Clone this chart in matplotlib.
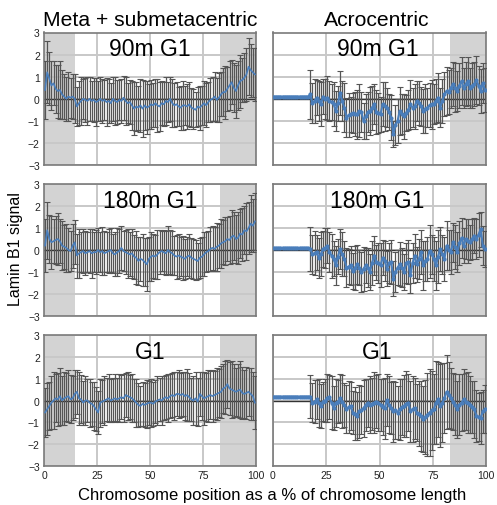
import numpy as np
import matplotlib
matplotlib.use("Agg")
import matplotlib.pyplot as plt

plt.rcParams['font.family'] = ['Liberation Sans', 'DejaVu Sans']

# position along chromosome (% of length), one point per percent
pos = np.arange(100) + 0.5

# --- Meta + submetacentric ---
tl_mean = [0.4, 1.2, 0.9, 0.6, 0.7, 0.45, 0.35, 0.4, 0.2, 0.1,
           0.0, 0.1, 0.05, 0.1, 0.0, -0.35, -0.2, -0.1, 0.0, -0.05,
           -0.1, 0.0, -0.1, -0.05, -0.15, -0.1, 0.0, -0.1, -0.05, -0.15,
           -0.1, -0.2, 0.0, -0.1, -0.15, -0.05, -0.1, 0.05, -0.1, -0.2,
           -0.15, -0.3, -0.45, -0.35, -0.4, -0.3, -0.45, -0.3, -0.4, -0.35,
           -0.25, -0.3, -0.2, -0.3, -0.35, -0.2, -0.25, -0.1, -0.15, 0.0,
           -0.2, -0.3, -0.25, -0.35, -0.4, -0.3, -0.3, -0.35, -0.25, -0.4,
           -0.45, -0.5, -0.35, -0.4, -0.3, -0.2, -0.3, -0.15, -0.05, 0.0,
           0.1, -0.05, 0.05, 0.2, 0.3, 0.3, 0.45, 0.6, 0.75, 0.5,
           0.35, 0.6, 0.8, 0.85, 0.95, 1.1, 1.45, 1.3, 1.2, 1.1]
tl_err = [1.3, 1.4, 1.2, 1.1, 1.0, 1.1, 1.2, 1.3, 1.1, 1.0,
          1.0, 1.1, 0.9, 1.0, 1.1, 0.9, 1.0, 1.1, 0.9, 1.0,
          1.1, 1.0, 0.9, 1.0, 1.1, 0.9, 1.0, 1.0, 0.9, 1.1,
          1.0, 0.9, 1.0, 1.1, 1.0, 0.9, 1.0, 1.0, 1.1, 0.9,
          1.0, 1.1, 1.2, 1.1, 1.0, 1.2, 1.3, 1.1, 1.2, 1.0,
          1.1, 1.0, 1.1, 1.2, 1.1, 1.0, 1.0, 1.1, 0.9, 1.0,
          1.1, 1.0, 1.0, 0.9, 1.0, 1.1, 0.9, 1.0, 1.0, 0.9,
          0.9, 0.8, 0.9, 1.0, 0.9, 1.0, 1.0, 0.9, 1.0, 1.0,
          1.1, 1.0, 1.1, 1.0, 1.1, 1.2, 1.0, 1.1, 1.0, 1.1,
          1.2, 1.1, 1.2, 1.0, 1.1, 1.2, 1.3, 1.2, 1.1, 1.2]

ml_mean = [0.2, 0.9, 0.5, 0.35, 0.4, 0.45, 0.5, 0.4, 0.2, 0.15,
           0.1, 0.0, -0.05, 0.2, 0.35, -0.25, -0.15, -0.1, -0.05, -0.15,
           -0.1, -0.05, -0.15, -0.1, -0.1, 0.0, -0.1, -0.05, -0.15, -0.1,
           -0.05, 0.0, -0.15, -0.2, -0.1, -0.05, 0.1, -0.05, -0.1, -0.15,
           -0.2, -0.15, -0.3, -0.35, -0.5, -0.4, -0.45, -0.55, -0.65, -0.4,
           -0.3, -0.25, -0.3, -0.2, -0.1, -0.05, -0.1, -0.15, 0.0, -0.1,
           -0.15, -0.25, -0.3, -0.25, -0.3, -0.35, -0.4, -0.3, -0.25, -0.35,
           -0.4, -0.45, -0.5, -0.35, -0.3, -0.2, -0.1, -0.05, 0.05, 0.1,
           0.05, 0.15, 0.2, 0.3, 0.35, 0.4, 0.5, 0.45, 0.6, 0.65,
           0.5, 0.55, 0.75, 0.7, 0.9, 0.85, 1.0, 1.2, 1.1, 1.3]
ml_err = [1.2, 1.3, 1.1, 1.2, 1.0, 1.1, 1.2, 1.0, 1.1, 1.0,
          1.1, 1.0, 0.9, 1.0, 1.0, 1.0, 1.1, 0.9, 1.0, 1.0,
          0.9, 1.0, 1.1, 0.9, 1.0, 1.0, 0.9, 1.1, 1.0, 0.9,
          1.0, 1.0, 0.9, 1.0, 1.1, 1.0, 1.0, 0.9, 1.0, 1.1,
          1.0, 1.1, 1.0, 1.2, 1.1, 1.0, 1.2, 1.1, 1.2, 1.0,
          1.1, 1.0, 1.0, 1.1, 1.0, 0.9, 1.0, 1.0, 1.1, 1.0,
          1.0, 0.9, 1.0, 1.0, 0.9, 1.0, 0.9, 0.9, 1.0, 0.9,
          0.9, 0.9, 0.8, 0.9, 0.9, 1.0, 0.9, 0.9, 1.0, 1.0,
          1.0, 1.1, 1.0, 1.1, 1.0, 1.1, 1.0, 1.1, 1.2, 1.1,
          1.1, 1.2, 1.1, 1.2, 1.1, 1.3, 1.2, 1.3, 1.2, 1.3]

bl_mean = [-0.55, -0.4, -0.25, -0.1, 0.0, 0.1, 0.05, 0.2, 0.0, 0.1,
           0.15, 0.2, 0.05, 0.1, 0.3, 0.4, 0.1, 0.05, -0.1, 0.0,
           0.0, -0.1, -0.15, -0.25, -0.4, -0.55, -0.1, -0.05, 0.0, 0.05,
           0.1, 0.0, 0.05, 0.1, 0.05, 0.1, 0.15, 0.1, 0.25, 0.2,
           0.15, 0.1, 0.0, -0.1, -0.2, -0.25, -0.15, -0.2, -0.15, -0.1,
           -0.1, -0.15, -0.05, 0.0, 0.05, 0.0, 0.1, 0.15, 0.1, 0.2,
           0.25, 0.2, 0.3, 0.3, 0.25, 0.3, 0.2, 0.25, 0.15, 0.05,
           0.0, 0.1, -0.05, 0.3, 0.2, 0.1, 0.15, 0.2, 0.25, 0.2,
           0.25, 0.3, 0.35, 0.4, 0.55, 0.6, 0.75, 0.55, 0.5, 0.45,
           0.4, 0.45, 0.5, 0.35, 0.3, 0.35, 0.4, 0.3, 0.2, -0.1]
bl_err = [1.1, 1.2, 1.1, 1.2, 1.3, 1.1, 1.2, 1.3, 1.1, 1.2,
          1.1, 1.2, 1.1, 1.0, 1.1, 1.0, 1.2, 1.1, 1.0, 1.1,
          1.0, 1.1, 1.0, 1.1, 1.0, 1.0, 1.1, 1.0, 1.1, 1.0,
          1.1, 1.0, 1.0, 1.1, 1.0, 1.1, 1.0, 1.1, 1.0, 1.1,
          1.0, 1.1, 1.0, 1.1, 1.0, 0.9, 1.0, 1.0, 1.1, 1.0,
          1.1, 1.0, 1.0, 1.1, 1.0, 1.1, 1.0, 1.0, 1.1, 1.0,
          1.0, 1.1, 1.0, 1.1, 1.0, 1.0, 1.1, 1.2, 1.1, 1.0,
          1.1, 1.2, 1.1, 1.0, 1.1, 1.2, 1.1, 1.2, 1.1, 1.2,
          1.1, 1.2, 1.1, 1.2, 1.1, 1.2, 1.1, 1.2, 1.3, 1.2,
          1.1, 1.2, 1.3, 1.2, 1.1, 1.2, 1.1, 1.2, 1.1, 1.2]

# --- Acrocentric ---
tr_mean = [0.1] * 17 + [
           0.2, -0.2, -0.1,
           0.05, -0.1, -0.25, 0.1, 0.0, 0.05, -0.1, -0.15, -0.25, -0.55,
           -0.2, 0.25, -0.1, -0.4, -0.85, -0.75, -0.7, -0.65, -0.7, -0.7,
           -0.55, -0.6, -1.0, -0.8, -0.6, -0.55, -0.4, -0.25, -0.6, -0.65,
           -0.7, -0.25, -0.35, -0.4, -0.6, -0.85, -1.6, -1.2, -1.0, -0.55,
           -0.7, -0.8, -0.65, -0.5, -0.25, -0.4, -0.35, -0.1, -0.2, -0.35,
           -0.55, -0.45, -0.4, -0.3, -0.25, -0.25, -0.1, 0.05, -0.4, -0.1,
           0.2, 0.35, 0.3, 0.5, 0.65, 0.5, 0.35, 0.6, 0.8, 0.5,
           0.65, 0.8, 0.5, 0.6, 0.65, 0.85, 0.6, 0.35, 0.7, 0.4]
tr_err = [0.0] * 17 + [
          1.1, 0.9, 1.0,
          0.8, 0.9, 1.0, 0.8, 0.9, 1.0, 0.9, 0.8, 1.0, 0.9,
          0.8, 1.0, 0.9, 1.1, 0.9, 1.0, 0.8, 0.9, 1.0, 1.1,
          1.2, 0.9, 0.8, 1.0, 0.9, 1.1, 1.0, 0.9, 1.0, 0.9,
          0.8, 1.0, 1.1, 0.9, 0.8, 1.0, 0.6, 0.9, 1.0, 1.1,
          0.9, 1.0, 0.8, 0.9, 1.1, 0.9, 1.0, 0.9, 1.0, 0.9,
          1.0, 1.1, 0.9, 1.0, 1.1, 0.9, 1.0, 1.1, 0.9, 1.0,
          1.0, 1.1, 1.0, 0.9, 1.0, 1.1, 0.9, 1.0, 1.1, 0.9,
          1.0, 1.1, 0.9, 1.0, 1.0, 1.1, 0.9, 1.0, 0.9, 1.0]

mr_mean = [0.1] * 17 + [
           0.05, -0.2, -0.15,
           -0.1, -0.35, -0.2, 0.05, 0.1, 0.2, -0.1, -0.25, -0.4, -0.7,
           -0.3, 0.05, -0.2, -0.4, -0.8, -0.75, -0.7, -0.95, -0.8, -0.65,
           -0.8, -1.0, -0.85, -0.7, -0.8, -1.0, -0.6, -0.25, -0.55, -0.6,
           -0.7, -0.35, -0.5, -0.85, -0.6, -0.55, -1.3, -1.0, -0.8, -0.65,
           -0.8, -1.0, -0.6, -0.55, -1.15, -0.6, -0.25, -0.65, -0.4, -0.1,
           -0.7, -0.5, -0.4, -0.05, -0.2, -0.4, -0.7, -0.3, 0.05, -0.2,
           -0.4, 0.2, 0.0, -0.1, 0.35, 0.15, -0.1, 0.3, 0.55, 0.2,
           0.5, 0.4, 0.35, 0.5, 0.65, 0.5, 0.7, 0.95, 0.2, 0.05]
mr_err = [0.0] * 17 + [
          1.0, 0.9, 1.0,
          0.8, 0.9, 1.0, 0.8, 0.9, 0.8, 0.9, 1.0, 0.8, 0.9,
          0.8, 0.9, 1.0, 0.8, 0.9, 0.8, 0.9, 0.8, 1.0, 0.9,
          0.8, 0.9, 1.0, 0.8, 0.9, 0.8, 1.0, 0.9, 0.8, 0.9,
          1.0, 0.8, 0.9, 0.8, 0.9, 1.0, 0.8, 0.9, 0.8, 1.0,
          0.9, 0.8, 0.9, 1.0, 0.8, 0.9, 1.0, 0.8, 0.9, 1.0,
          1.1, 0.9, 1.0, 1.2, 0.9, 1.0, 1.1, 1.2, 1.0, 0.9,
          1.0, 1.1, 0.9, 1.0, 0.9, 1.0, 0.9, 1.0, 0.9, 0.8,
          0.9, 1.0, 0.8, 0.9, 0.8, 0.9, 1.0, 0.8, 0.9, 0.8]

br_mean = [0.18] * 17 + [
           0.18, -0.1, -0.05,
           0.05, -0.1, -0.25, -0.05, 0.0, 0.1, 0.15, -0.1, -0.35, -0.1,
           -0.05, 0.1, -0.05, -0.2, -0.4, -0.3, -0.25, -0.55, -0.6, -0.7,
           -0.5, -0.45, -0.35, -0.2, -0.1, -0.2, -0.15, -0.1, -0.05, -0.1,
           -0.2, -0.3, -0.35, 0.03, -0.2, -0.35, -0.5, -0.45, -0.55, -0.4,
           -0.3, -0.25, -0.15, -0.1, -0.5, -0.4, -0.35, -0.55, -0.6, -0.7,
           -0.85, -0.75, -0.65, -0.55, -0.45, -0.4, -0.1, 0.05, -0.25, -0.1,
           0.1, 0.4, 0.25, 0.1, -0.05, -0.2, -0.4, -0.2, -0.1, 0.05,
           -0.05, -0.1, -0.2, -0.3, -0.4, -0.7, -0.75, -0.8, -0.5, -0.4]
br_err = [0.0] * 17 + [
          1.0, 0.9, 1.0,
          0.9, 1.1, 1.0, 0.9, 1.0, 1.1, 1.0, 1.2, 1.0, 1.1,
          1.0, 1.1, 1.2, 1.0, 1.1, 1.2, 1.1, 1.0, 1.2, 1.1,
          1.2, 1.1, 1.3, 1.2, 1.1, 1.3, 1.2, 1.4, 1.2, 1.3,
          1.2, 1.3, 1.4, 1.2, 1.3, 1.2, 1.4, 1.3, 1.2, 1.4,
          1.3, 1.4, 1.5, 1.3, 1.4, 1.5, 1.4, 1.3, 1.5, 1.6,
          1.5, 1.7, 1.9, 2.0, 1.8, 1.6, 1.9, 1.7, 1.9, 1.8,
          1.6, 1.7, 1.5, 1.4, 1.3, 1.4, 1.3, 1.4, 1.3, 1.4,
          1.3, 1.4, 1.3, 1.2, 1.3, 1.2, 1.1, 1.2, 1.0, 1.1]

col_titles = ["Meta + submetacentric", "Acrocentric"]
row_titles = ["90m G1", "180m G1", "G1"]
panels = [[(tl_mean, tl_err), (tr_mean, tr_err)],
          [(ml_mean, ml_err), (mr_mean, mr_err)],
          [(bl_mean, bl_err), (br_mean, br_err)]]
shade = [[(0, 14.5), (83, 100)], [(83, 100)]]

fig = plt.figure(figsize=(4.97, 5.06), dpi=100)
W, H = 497, 506
col_x = [(44, 256), (273, 486)]
row_y = [(33.5, 166), (185, 317), (336, 467)]

for r in range(3):
    for c in range(2):
        x0, x1 = col_x[c]
        y0, y1 = row_y[r]
        ax = fig.add_axes([x0 / W, 1 - y1 / H, (x1 - x0) / W, (y1 - y0) / H])
        for a, b in shade[c]:
            ax.axvspan(a, b, color='#d3d3d3', lw=0, zorder=0)
        ax.grid(True, color='#c8c8c8', lw=1.4, zorder=1)
        ax.set_axisbelow(True)
        ax.axhline(0, color='#333333', lw=1.0, zorder=2)
        m, e = panels[r][c]
        ax.errorbar(pos, m, yerr=e, fmt='none', ecolor='#555555',
                    elinewidth=0.9, capsize=2.0, capthick=0.8, zorder=3)
        if c == 1:
            ax.plot(pos, m, color='#4a7ebb', lw=1.5, marker='o', ms=2,
                    zorder=4)
        else:
            ax.plot(pos, m, color='#4a7ebb', lw=1.2, zorder=4)
        ax.set_xlim(0, 100)
        ax.set_ylim(-3, 3)
        ax.set_xticks([0, 25, 50, 75, 100])
        ax.set_yticks([-3, -2, -1, 0, 1, 2, 3])
        ax.tick_params(length=0, labelsize=7.5, pad=3, colors='#222222')
        if c == 1:
            ax.set_yticklabels([])
        if r < 2:
            ax.set_xticklabels([])
        for s in ax.spines.values():
            s.set_color('#7a7a7a')
            s.set_linewidth(1.2)
        ax.text(0.5 if c == 0 else 0.49, 0.965, row_titles[r],
                transform=ax.transAxes, ha='center', va='top',
                fontsize=16.5, zorder=5)

fig.text(150 / W, 1 - 20 / H, col_titles[0], ha='center', va='center',
         fontsize=15.2)
fig.text(377 / W, 1 - 20 / H, col_titles[1], ha='center', va='center',
         fontsize=15.2)
fig.text(16 / W, 1 - 249 / H, "Lamin B1 signal", rotation=90,
         ha='center', va='center', fontsize=11.5)
fig.text(272 / W, 1 - 496 / H,
         "Chromosome position as a % of chromosome length",
         ha='center', va='center', fontsize=12)

fig.savefig("out.png", dpi=100)
